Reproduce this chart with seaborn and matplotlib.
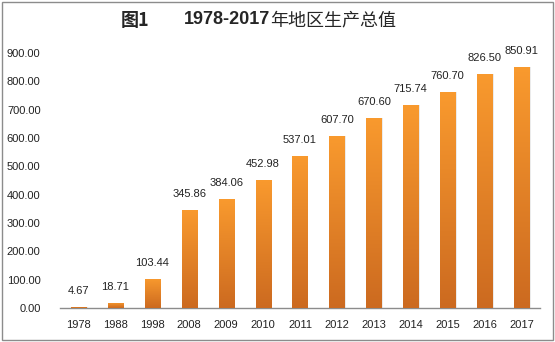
import numpy as np
import pandas as pd
import matplotlib
matplotlib.use("Agg")
import matplotlib.pyplot as plt
import seaborn as sns
from matplotlib.colors import LinearSegmentedColormap
from matplotlib.patches import Rectangle

years = ["1978", "1988", "1998", "2008", "2009", "2010", "2011", "2012",
         "2013", "2014", "2015", "2016", "2017"]
values = [4.67, 18.71, 103.44, 345.86, 384.06, 452.98, 537.01, 607.70,
          670.60, 715.74, 760.70, 826.50, 850.91]
yticks = [0, 100, 200, 300, 400, 500, 600, 700, 800, 900]

sns.set_theme(style="white")
plt.rcParams['font.family'] = ['Liberation Sans', 'DejaVu Sans']

df = pd.DataFrame({"year": years, "value": values})

fig = plt.figure(figsize=(5.55, 3.42), dpi=100)
ax = fig.add_axes([60/555, 1-308/342, 480/555, 255/342])

sns.barplot(data=df, x="year", y="value", ax=ax, color="#F0882A",
            width=0.41, saturation=1, errorbar=None)

cmap = LinearSegmentedColormap.from_list("g", ["#CC6A20", "#F99A2E"])
grad = np.linspace(0, 1, 256).reshape(-1, 1)
for p in ax.patches:
    x0, y0 = p.get_x(), p.get_y()
    w, h = p.get_width(), p.get_height()
    sh = Rectangle((x0 + 0.04, y0), w, h, facecolor="#bbbbbb", alpha=0.35,
                   edgecolor="none", zorder=1)
    ax.add_patch(sh)
    p.set_zorder(2)
    im = ax.imshow(grad, extent=[x0, x0 + w, y0, y0 + h], origin="lower",
                   cmap=cmap, aspect="auto", zorder=3)
    im.set_clip_path(p)

ax.set_xlim(-0.5, len(years) - 0.5)
ax.set_ylim(0, 900)
ax.set_yticks(yticks)
ax.set_yticklabels([f"{v:.2f}" for v in yticks], fontsize=8, color="#222222")
ax.tick_params(axis="y", pad=14, length=0)
ax.tick_params(axis="x", pad=9, length=0, labelsize=8, labelcolor="#222222")
ax.set_xlabel("")
ax.set_ylabel("")
for s in ["top", "right", "left"]:
    ax.spines[s].set_visible(False)
ax.spines["bottom"].set_color("#8c8c8c")
ax.spines["bottom"].set_linewidth(1.0)

for i, v in enumerate(values):
    ax.annotate(f"{v:.2f}", (i, v), xytext=(0, 8), textcoords="offset points",
                ha="center", va="bottom", fontsize=8, color="#222222")

# title
t1 = fig.text(121/555, 1-20/342, "图1", fontsize=13, fontweight="bold",
              family=["Noto Sans CJK SC"], va="center", ha="left")
t2 = fig.text(184/555, 1-20/342, "1978-2017", fontsize=13, fontweight="bold",
              family=["Liberation Sans"], va="center", ha="left")
fig.canvas.draw()
fig.text(0, 0, "年地区生产总值", fontsize=13, family=["Noto Sans CJK SC"],
         va="center", ha="left")
bb = t2.get_window_extent()
fig.texts[-1].set_position((bb.x1 / fig.bbox.width, 1-20/342))

fig.patches.append(Rectangle((2/555, 2/342), 551/555, 338/342,
                             transform=fig.transFigure, fill=False,
                             edgecolor="#8c8c8c", linewidth=1.0))

fig.savefig("out.png", dpi=100)
